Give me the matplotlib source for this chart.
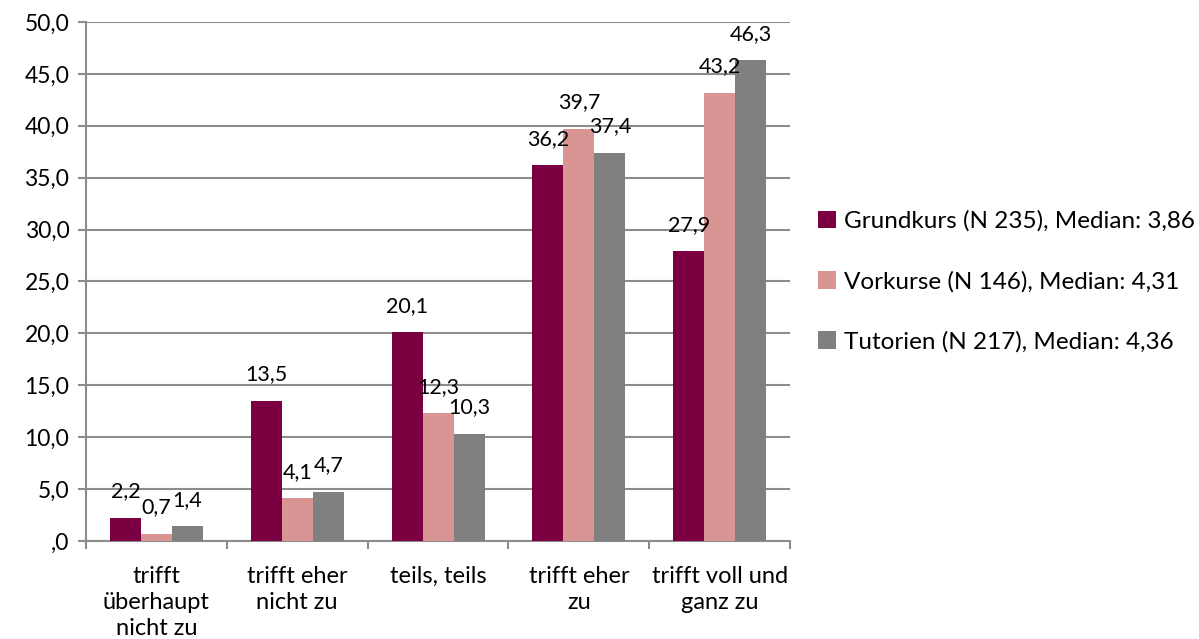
import numpy as np
import matplotlib.pyplot as plt
from matplotlib.ticker import FuncFormatter, FixedLocator

plt.rcParams['font.family'] = ['Lato', 'DejaVu Sans']

categories = ['trifft\nüberhaupt\nnicht zu', 'trifft eher\nnicht zu', 'teils, teils',
              'trifft eher\nzu', 'trifft voll und\nganz zu']
series_names = ['Grundkurs (N 235), Median: 3,86',
                'Vorkurse (N 146), Median: 4,31',
                'Tutorien (N 217), Median: 4,36']
grundkurs = [2.2, 13.5, 20.1, 36.2, 27.9]
vorkurse = [0.7, 4.1, 12.3, 39.7, 43.2]
tutorien = [1.4, 4.7, 10.3, 37.4, 46.3]
colors = ['#7B0041', '#D99594', '#808080']


def de_num(v, pos=None):
    s = f"{v:.1f}".replace('.', ',')
    return ',0' if s == '0,0' else s


fig = plt.figure(figsize=(11.99, 6.39), dpi=100)
ax = fig.add_axes([0.0717, 0.1534, 0.5873, 0.8122])

x = np.arange(len(categories))
w = 0.22
for i, (vals, name, c) in enumerate(zip([grundkurs, vorkurse, tutorien], series_names, colors)):
    bars = ax.bar(x + (i - 1) * w, vals, w, color=c, label=name, zorder=3)
    for b, v in zip(bars, vals):
        # labels sit above all bars, like Excel does
        ax.text(b.get_x() + b.get_width() / 2, v + 1.6, de_num(v), ha='center', va='bottom',
                fontsize=15.5, color='black', zorder=6)

ax.set_xlim(-0.5, len(categories) - 0.5)
ax.set_ylim(0, 50)
ax.set_yticks(np.arange(0, 51, 5))
ax.yaxis.set_major_formatter(FuncFormatter(de_num))
ax.yaxis.grid(True, color='#8c8c8c', linewidth=1.5, zorder=0)
ax.set_axisbelow(True)

ax.set_xticks(x)
ax.set_xticklabels(categories, fontsize=17, linespacing=1.3)
ax.tick_params(axis='x', length=0, pad=18)
ax.xaxis.set_minor_locator(FixedLocator(np.arange(-0.5, len(categories), 1)))
ax.tick_params(axis='x', which='minor', length=6, color='#8c8c8c', width=1.5)
ax.tick_params(axis='y', labelsize=16.5, length=6, color='#8c8c8c', width=1.5, pad=6)

for s in ['top', 'right']:
    ax.spines[s].set_visible(False)
for s in ['left', 'bottom']:
    ax.spines[s].set_color('#8c8c8c')
    ax.spines[s].set_linewidth(1.5)

fig.legend(loc='upper left', bbox_to_anchor=(0.664, 0.705), frameon=False, fontsize=17.5,
           handlelength=0.75, handleheight=0.75, handletextpad=0.3, labelspacing=1.6)

fig.savefig('out.png', dpi=100)
